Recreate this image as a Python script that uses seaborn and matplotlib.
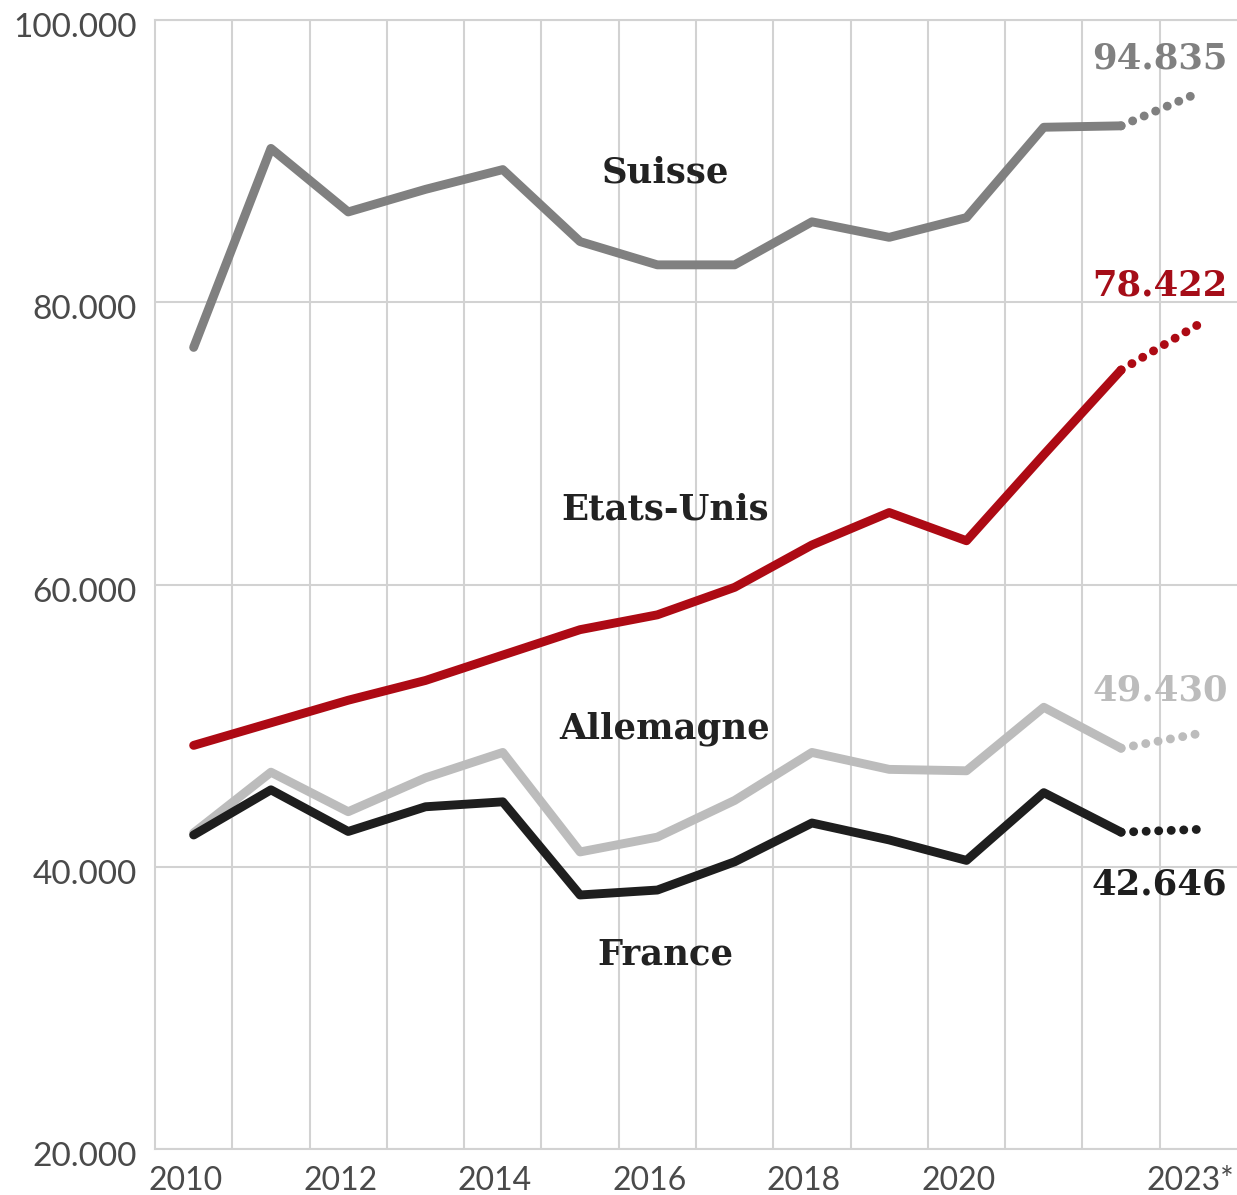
import numpy as np
import pandas as pd
import matplotlib
matplotlib.use("Agg")
import matplotlib.pyplot as plt
import matplotlib.transforms as mtransforms
import seaborn as sns

# ---- data ----
years = [2010, 2011, 2012, 2013, 2014, 2015, 2016, 2017, 2018, 2019, 2020, 2021, 2022, 2023]
suisse = [76800, 90900, 86400, 88000, 89400, 84300, 82650, 82650, 85700, 84600, 86000, 92400, 92500, 94835]
etats_unis = [48600, 50200, 51800, 53200, 55000, 56800, 57850, 59800, 62800, 65100, 63100, 69200, 75200, 78422]
allemagne = [42400, 46700, 43900, 46300, 48100, 41050, 42100, 44700, 48100, 46900, 46800, 51300, 48400, 49430]
france = [42250, 45450, 42500, 44250, 44600, 38000, 38350, 40350, 43100, 41900, 40450, 45250, 42450, 42646]
countries = ["Suisse", "Etats-Unis", "Allemagne", "France"]
end_labels = ["94.835", "78.422", "49.430", "42.646"]
x_tick_years = [2010, 2012, 2014, 2016, 2018, 2020, 2023]
x_tick_labels = ["2010", "2012", "2014", "2016", "2018", "2020", "2023*"]
y_ticks = [20000, 40000, 60000, 80000, 100000]
y_tick_labels = ["20.000", "40.000", "60.000", "80.000", "100.000"]

colors = {"Suisse": "#808080", "Etats-Unis": "#ad0a14", "Allemagne": "#bcbcbc", "France": "#1e1e1e"}
series = {"Suisse": suisse, "Etats-Unis": etats_unis, "Allemagne": allemagne, "France": france}

sns.set_theme(style="white")
plt.rcParams["font.family"] = ["Lato", "DejaVu Sans"]

fig = plt.figure(figsize=(12.37, 11.95), dpi=100)
ax = fig.add_axes([155 / 1237, 46 / 1195, 1 - 155 / 1237, (1149 - 20) / 1195])

grid_c = "#d2d2d2"
lw = 6.4

# long-form data for solid parts (2010-2022)
rows = []
for c in countries:
    for yr, v in zip(years[:-1], series[c][:-1]):
        rows.append({"year": yr, "value": v, "country": c})
df = pd.DataFrame(rows)

sns.lineplot(data=df, x="year", y="value", hue="country", hue_order=countries,
             palette=colors, linewidth=lw, legend=False, ax=ax,
             solid_capstyle="round", solid_joinstyle="round", zorder=3)

# dotted projections 2022 -> 2023
for c in countries:
    sns.lineplot(x=years[-2:], y=series[c][-2:], color=colors[c], linewidth=lw,
                 linestyle=(0, (0.01, 1.4)), dash_capstyle="round", ax=ax,
                 legend=False, zorder=3)

ax.set_xlim(2009.5, 2023.5)
ax.set_ylim(20000, 100000)

# grid
ax.set_xticks(np.arange(2010.5, 2023.5, 1.0), minor=True)
ax.set_xticks(x_tick_years)
ax.set_xticklabels(x_tick_labels)
ax.set_yticks(y_ticks)
ax.set_yticklabels(y_tick_labels)
ax.grid(False)
ax.grid(True, which="minor", axis="x", color=grid_c, linewidth=1.5, zorder=0)
ax.grid(True, which="major", axis="y", color=grid_c, linewidth=1.5, zorder=0)
ax.tick_params(axis="both", which="both", length=0)
ax.tick_params(axis="y", pad=13, labelsize=24, labelcolor="#4a4a4a")
ax.tick_params(axis="x", pad=12, labelsize=23, labelcolor="#4a4a4a")

shift_x = mtransforms.ScaledTranslation(-8 / 100, 0, fig.dpi_scale_trans)
for lab in ax.get_xticklabels():
    lab.set_transform(lab.get_transform() + shift_x)
shift_y = mtransforms.ScaledTranslation(0, -5 / 100, fig.dpi_scale_trans)
for lab in ax.get_yticklabels():
    lab.set_transform(lab.get_transform() + shift_y)

for side in ["left", "bottom", "top"]:
    ax.spines[side].set_color(grid_c)
    ax.spines[side].set_linewidth(1.5)
ax.spines["right"].set_visible(False)
ax.set_xlabel("")
ax.set_ylabel("")

# series name labels
name_pos = {"Suisse": 89200, "Etats-Unis": 65300, "Allemagne": 49800, "France": 33750}
for c in countries:
    ax.text(2016.1, name_pos[c], c, ha="center", va="center", fontsize=25.5,
            fontweight="heavy", family="DejaVu Serif", color="#222222", zorder=4)

# end value labels
offsets = {"Suisse": 25, "Etats-Unis": 28, "Allemagne": 31, "France": -40}
for c, lab in zip(countries, end_labels):
    ax.annotate(lab, xy=(years[-1], series[c][-1]), xytext=(21, offsets[c]),
                textcoords="offset points", ha="right", va="center",
                fontsize=25.5, fontweight="bold", family="DejaVu Serif",
                color=colors[c] if c != "Etats-Unis" else "#a50d18", zorder=4,
                annotation_clip=False)

fig.savefig("out.png", dpi=100)
